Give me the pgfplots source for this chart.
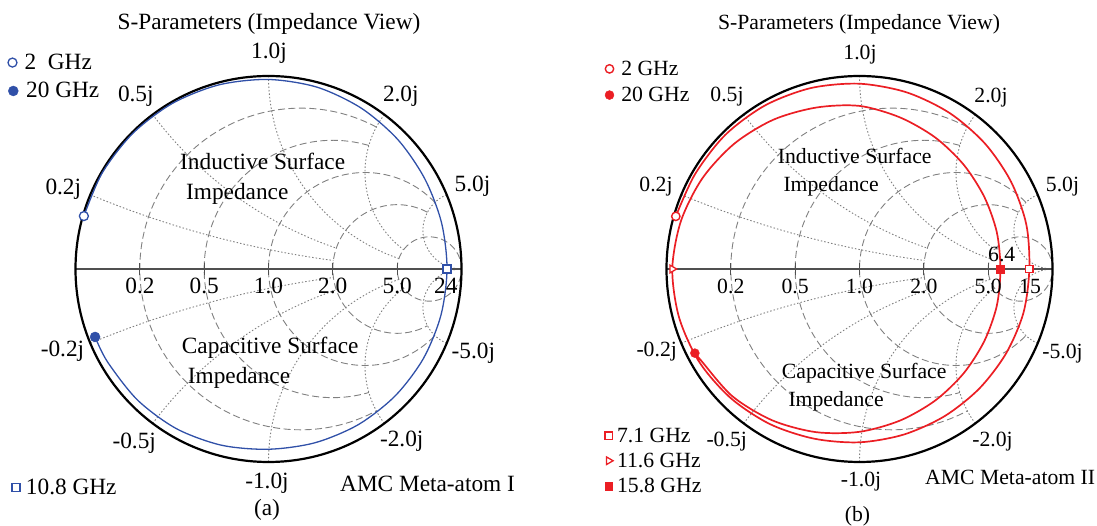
\documentclass[border=0pt]{standalone}
\usepackage{pgfplots}
\pgfplotsset{compat=1.18}
\usepackage{fontspec}
\setmainfont{Liberation Serif}

\definecolor{blueline}{RGB}{48,80,168}
\definecolor{redline}{RGB}{235,30,36}
\definecolor{gridgray}{RGB}{128,128,128}
\definecolor{axisgray}{RGB}{80,80,80}

\newcommand{\fa}{\fontsize{23.3}{28}\selectfont}
\newcommand{\fb}{\fontsize{21.7}{26}\selectfont}

\tikzset{
  rgrid/.style={gridgray, line width=0.9pt, dash pattern=on 7pt off 3.5pt},
  xgrid/.style={gridgray, line width=0.9pt, dash pattern=on 1.5pt off 2pt},
}

\newcommand{\smithgrid}{%
  \draw[rgrid] (axis cs:0.5588,0.7353) arc[start angle=61.93, end angle=298.07, radius=0.83333];
  \draw[rgrid] (axis cs:0.52,0.64) arc[start angle=73.74, end angle=286.26, radius=0.66667];
  \draw[rgrid] (axis cs:0.8621,0.3448) arc[start angle=43.60, end angle=316.40, radius=0.5];
  \draw[rgrid] (axis cs:0.8235,0.2941) arc[start angle=61.93, end angle=298.07, radius=0.33333];
  \draw[rgrid] (axis cs:0.83333,0) circle[radius=0.16667];
  \draw[xgrid] (axis cs:-0.9231,0.3846) arc[start angle=247.38, end angle=262.37, radius=5];
  \draw[xgrid] (axis cs:-0.9231,-0.3846) arc[start angle=112.62, end angle=97.63, radius=5];
  \draw[xgrid] (axis cs:-0.6,0.8) arc[start angle=216.87, end angle=251.08, radius=2];
  \draw[xgrid] (axis cs:-0.6,-0.8) arc[start angle=143.13, end angle=108.92, radius=2];
  \draw[xgrid] (axis cs:0,1) arc[start angle=180, end angle=251.08, radius=1];
  \draw[xgrid] (axis cs:0,-1) arc[start angle=180, end angle=108.92, radius=1];
  \draw[xgrid] (axis cs:0.6,0.8) arc[start angle=143.13, end angle=233.13, radius=0.5];
  \draw[xgrid] (axis cs:0.6,-0.8) arc[start angle=216.87, end angle=126.87, radius=0.5];
  \draw[xgrid] (axis cs:0.9231,0.3846) arc[start angle=112.62, end angle=270, radius=0.2];
  \draw[xgrid] (axis cs:0.9231,-0.3846) arc[start angle=247.38, end angle=90, radius=0.2];
  \draw[axisgray, line width=1.1pt] (axis cs:-1,0) -- (axis cs:1,0);
  \draw[axisgray, line width=1pt] (axis cs:-0.66667,-0.03) -- (axis cs:-0.66667,0.03);
  \draw[axisgray, line width=1pt] (axis cs:-0.33333,-0.03) -- (axis cs:-0.33333,0.03);
  \draw[axisgray, line width=1pt] (axis cs:0,-0.03) -- (axis cs:0,0.03);
  \draw[axisgray, line width=1pt] (axis cs:0.33333,-0.03) -- (axis cs:0.33333,0.03);
  \draw[axisgray, line width=1pt] (axis cs:0.66667,-0.03) -- (axis cs:0.66667,0.03);
  \draw[black, line width=2.2pt] (axis cs:0,0) circle[radius=1];
}

\pgfplotsset{
  smithbase/.style={
    scale only axis, width=386pt, height=386pt,
    xmin=-1, xmax=1, ymin=-1, ymax=1,
    hide axis, clip=false, disabledatascaling,
    anchor=south west,
    legend cell align=left,
    legend image code/.code={\draw[##1] plot coordinates {(0pt,0pt)};},
  },
  leg/.style n args={4}{legend style={draw=none, fill=none,
    at={(axis description cs:#1,#2)}, anchor=north west,
    font=#3, row sep=9.3pt, inner sep=0pt, outer sep=0pt, nodes={inner sep=0pt},
    /tikz/every odd column/.append style={column sep=#4}}},
}

\begin{document}
\begin{tikzpicture}
\useasboundingbox (0pt,0pt) rectangle (1097pt,526pt);

% ---------------- chart (a) ----------------
\begin{axis}[smithbase, at={(75.5pt,64pt)}, leg={-0.1749}{1.0567}{\fa}{7.6pt}]
  \smithgrid
  \addplot[blueline, line width=1.3pt, smooth, forget plot] coordinates {
    (-0.9565,0.2742) (-0.8617,0.4975) (-0.7029,0.7029) (-0.4960,0.8591) (-0.2557,0.9543)
    (0,0.982) (0.2523,0.9418) (0.4810,0.8331) (0.6703,0.6703) (0.8097,0.4675)
    (0.8964,0.2402) (0.925,0) (0.8935,-0.2394) (0.8028,-0.4635) (0.6569,-0.6569)
    (0.4655,-0.8063) (0.2412,-0.9002) (0,-0.934) (-0.2446,-0.9128) (-0.4775,-0.8271)
    (-0.6788,-0.6788) (-0.8340,-0.4815) (-0.8985,-0.3521)};
  \addplot[only marks, mark=*, mark size=4.5pt, color=blueline, line width=1.3pt, mark options={fill=white}] coordinates {(-0.9565,0.2742)};
  \addlegendentry{2\ \ GHz}
\end{axis}
\begin{axis}[smithbase, at={(75.5pt,64pt)}, leg={-0.1741}{0.9832}{\fa}{7.9pt}]
  \addplot[only marks, mark=*, mark size=5pt, color=blueline] coordinates {(-0.8985,-0.3521)};
  \addlegendentry{20 GHz}
\end{axis}
\begin{axis}[smithbase, at={(75.5pt,64pt)}, leg={-0.1646}{-0.0435}{\fa}{6pt}]
  \addplot[only marks, mark=square*, mark size=4pt, color=blueline, line width=1.3pt, mark options={fill=white}] coordinates {(0.925,0)};
  \addlegendentry{10.8 GHz}
\end{axis}

% ---------------- chart (b) ----------------
\begin{axis}[smithbase, at={(666.5pt,64pt)}, leg={-0.1593}{1.039}{\fb}{7.3pt}, legend style={row sep=10.3pt}]
  \smithgrid
  \addplot[redline, line width=1.7pt, smooth, forget plot] coordinates {
    (-0.9517,0.2728) (-0.8518,0.4918) (-0.6951,0.6951) (-0.4893,0.8475) (-0.2512,0.9376)
    (0,0.96) (0.2451,0.9149) (0.4667,0.8083) (0.65,0.65) (0.7847,0.4531)
    (0.8641,0.2315) (0.88,0) (0.8493,-0.2276) (0.759,-0.4382) (0.6201,-0.6201)
    (0.4404,-0.7628) (0.2298,-0.8577) (0,-0.898) (-0.2356,-0.8791) (-0.464,-0.8037)
    (-0.6682,-0.6682) (-0.8314,-0.48) (-0.935,-0.2505) (-0.97,0) (-0.9254,0.2479)
    (-0.8141,0.47) (-0.6491,0.6491) (-0.4465,0.7734) (-0.2241,0.8365) (0,0.845)
    (0.2104,0.7851) (0.3931,0.6809) (0.54,0.54) (0.6467,0.3734) (0.7114,0.1906)
    (0.73,0) (0.7114,-0.1906) (0.6467,-0.3734) (0.54,-0.54) (0.3931,-0.6809)
    (0.2104,-0.7851) (0,-0.8436) (-0.2265,-0.8452) (-0.4526,-0.7839) (-0.659,-0.659)
    (-0.821,-0.474) (-0.853,-0.436)};
  \addplot[only marks, mark=*, mark size=4.2pt, color=redline, line width=1.4pt, mark options={fill=white}] coordinates {(-0.9517,0.2728)};
  \addlegendentry{2 GHz}
  \addplot[only marks, mark=*, mark size=4.5pt, color=redline] coordinates {(-0.853,-0.436)};
  \addlegendentry{20 GHz}
\end{axis}
\begin{axis}[smithbase, at={(666.5pt,64pt)}, leg={-0.1596}{0.089}{\fb}{4pt}]
  \addplot[only marks, mark=square*, mark size=3.7pt, color=redline, line width=1.3pt, mark options={fill=white}] coordinates {(0.88,0)};
  \addlegendentry{7.1 GHz}
  \addplot[only marks, mark=triangle*, mark size=4.4pt, color=redline, line width=1.3pt, mark options={fill=white, rotate=-90}] coordinates {(-0.97,0)};
  \addlegendentry{11.6 GHz}
  \addplot[only marks, mark=square*, mark size=3.8pt, color=redline] coordinates {(0.73,0)};
  \addlegendentry{15.8 GHz}
\end{axis}

% ---------------- texts (a) ----------------
\begin{scope}[every node/.style={inner sep=0pt, font=\fa}]
\node[anchor=base] at (269pt,496.5pt) {S-Parameters (Impedance View)};
\node[anchor=base] at (269pt,467.7pt) {1.0j};
\node[anchor=base] at (135.8pt,424.3pt) {0.5j};
\node[anchor=base] at (400.8pt,424.3pt) {2.0j};
\node[anchor=base] at (63.3pt,331pt) {0.2j};
\node[anchor=base] at (472.5pt,334.3pt) {5.0j};
\node[anchor=base] at (62.5pt,169.3pt) {-0.2j};
\node[anchor=base] at (134.2pt,77.7pt) {-0.5j};
\node[anchor=base] at (267pt,37.7pt) {-1.0j};
\node[anchor=base] at (401.7pt,79.3pt) {-2.0j};
\node[anchor=base] at (473.3pt,167.7pt) {-5.0j};
\node[anchor=base] at (140pt,232.7pt) {0.2};
\node[anchor=base] at (204.2pt,232.7pt) {0.5};
\node[anchor=base] at (268.5pt,232.7pt) {1.0};
\node[anchor=base] at (332.8pt,232.7pt) {2.0};
\node[anchor=base] at (397.2pt,232.7pt) {5.0};
\node[anchor=base] at (445.8pt,232.7pt) {24};
\node[anchor=base west] at (180pt,356pt) {Inductive Surface};
\node[anchor=base west] at (186pt,326pt) {Impedance};
\node[anchor=base west] at (181.7pt,172.7pt) {Capacitive Surface};
\node[anchor=base west] at (187.7pt,142.7pt) {Impedance};
\node[anchor=base west] at (340pt,34.3pt) {AMC Meta-atom I};
\node[anchor=base] at (267pt,10.1pt) {(a)};
\end{scope}

% ---------------- texts (b) ----------------
\begin{scope}[every node/.style={inner sep=0pt, font=\fb}]
\node[anchor=base] at (859pt,496.5pt) {S-Parameters (Impedance View)};
\node[anchor=base] at (860pt,466pt) {1.0j};
\node[anchor=base] at (727pt,424.3pt) {0.5j};
\node[anchor=base] at (991pt,423pt) {2.0j};
\node[anchor=base] at (656pt,334.3pt) {0.2j};
\node[anchor=base] at (1062.5pt,334.3pt) {5.0j};
\node[anchor=base] at (656.7pt,169.3pt) {-0.2j};
\node[anchor=base] at (726.7pt,79.3pt) {-0.5j};
\node[anchor=base] at (861pt,39.3pt) {-1.0j};
\node[anchor=base] at (992.5pt,79.3pt) {-2.0j};
\node[anchor=base] at (1062.5pt,167.7pt) {-5.0j};
\node[anchor=base] at (730.8pt,232.7pt) {0.2};
\node[anchor=base] at (795.2pt,232.7pt) {0.5};
\node[anchor=base] at (859.5pt,232.7pt) {1.0};
\node[anchor=base] at (923.8pt,232.7pt) {2.0};
\node[anchor=base] at (988.2pt,232.7pt) {5.0};
\node[anchor=base] at (1030pt,232.7pt) {15};
\node[anchor=base] at (1001.7pt,264.3pt) {6.4};
\node[anchor=base west] at (777.7pt,362.7pt) {Inductive Surface};
\node[anchor=base west] at (783.3pt,334.3pt) {Impedance};
\node[anchor=base west] at (781.7pt,147.7pt) {Capacitive Surface};
\node[anchor=base west] at (788.3pt,119.3pt) {Impedance};
\node[anchor=base west] at (925pt,41pt) {AMC Meta-atom II};
\node[anchor=base] at (857.5pt,4.5pt) {(b)};
\end{scope}
\end{tikzpicture}
\end{document}
